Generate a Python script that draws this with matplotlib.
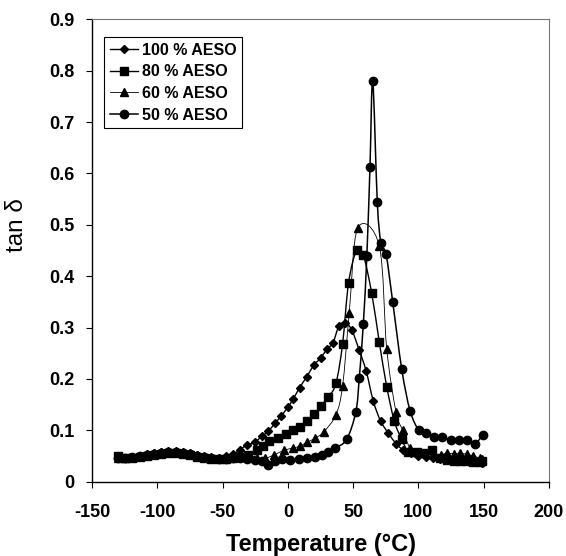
import matplotlib
matplotlib.use("Agg")
import matplotlib.pyplot as plt
from matplotlib.path import Path
from matplotlib.patches import PathPatch
from matplotlib.lines import Line2D
import numpy as np

plt.rcParams['font.family'] = ['Liberation Sans', 'DejaVu Sans']
plt.rcParams['axes.unicode_minus'] = False

# ---------------- data ----------------
x_100 = [-130, -124.5, -119, -113.5, -108, -102.5, -97, -91.5, -86, -80.5, -75, -69.5, -64, -58.5,
         -53, -47.5, -42, -36.5, -31.5, -25.5, -20, -15, -10, -5, 0, 4, 9, 14.5, 20, 25, 30, 34.5,
         39, 43.7, 48.8, 54.5, 60, 65.4, 71, 77, 82.8, 88.4, 94, 100, 105.5, 111, 116.5, 122,
         127.5, 133, 138.5, 144, 149]
y_100 = [0.047, 0.046, 0.048, 0.050, 0.053, 0.056, 0.058, 0.059, 0.060, 0.058, 0.056, 0.052, 0.050, 0.047,
         0.046, 0.049, 0.053, 0.062, 0.071, 0.076, 0.088, 0.098, 0.113, 0.128, 0.145, 0.160, 0.183, 0.204,
         0.227, 0.240, 0.258, 0.270, 0.302, 0.309, 0.296, 0.257, 0.215, 0.157, 0.118, 0.094, 0.074, 0.061,
         0.055, 0.050, 0.047, 0.045, 0.044, 0.043, 0.042, 0.041, 0.040, 0.038, 0.037]

x_80 = [-130, -124.5, -119, -113.5, -108, -102.5, -97, -91.5, -86, -80.5, -75, -69.5, -64, -58.5,
        -53, -47.5, -42, -36.5, -30.5, -24, -19, -14.3, -7.4, -1.5, 4.1, 9.2, 14.3, 20, 25.1, 31,
        36.8, 41.9, 46.5, 52.7, 57.8, 64.2, 70, 75.7, 81.5, 87.2, 92.3, 98.7, 104, 110.2, 116.6,
        122, 127, 132, 137, 142, 147, 149]
y_80 = [0.050, 0.045, 0.046, 0.047, 0.050, 0.052, 0.054, 0.055, 0.055, 0.054, 0.051, 0.048, 0.046, 0.044,
        0.043, 0.044, 0.045, 0.047, 0.052, 0.061, 0.070, 0.078, 0.085, 0.093, 0.100, 0.107, 0.118, 0.131,
        0.147, 0.165, 0.191, 0.268, 0.387, 0.451, 0.441, 0.367, 0.272, 0.185, 0.118, 0.082, 0.058, 0.058,
        0.055, 0.061, 0.045, 0.042, 0.040, 0.040, 0.039, 0.038, 0.038, 0.040]

x_60 = [-130, -124.5, -119, -113.5, -108, -102.5, -97, -91.5, -86, -80.5, -75, -69.5, -64, -58.5,
        -53, -47.5, -42, -36.5, -30, -24, -17.6, -10.4, -2.7, 3.6, 9.2, 14.3, 20.7, 27.6, 36.8, 41.9,
        47, 53.4, 70, 75.7, 82.8, 87.9, 93.6, 99, 105, 111, 117, 122, 127, 132, 137, 142, 147, 149]
y_60 = [0.045, 0.046, 0.048, 0.050, 0.052, 0.055, 0.057, 0.058, 0.058, 0.057, 0.054, 0.051, 0.048, 0.046,
        0.045, 0.046, 0.047, 0.047, 0.047, 0.046, 0.045, 0.052, 0.061, 0.065, 0.069, 0.076, 0.084, 0.097,
        0.130, 0.186, 0.328, 0.493, 0.459, 0.259, 0.136, 0.100, 0.065, 0.058, 0.055, 0.053, 0.052, 0.055,
        0.054, 0.055, 0.053, 0.050, 0.045, 0.043]

x_50 = [-130, -124.5, -119, -113.5, -108, -102.5, -97, -91.5, -86, -80.5, -75, -69.5, -64, -58.5,
        -53, -47.5, -42, -36.5, -31, -25.5, -20, -15.1, -9.5, -4.8, 1.5, 8.7, 14.9, 20.7, 26, 31,
        36.2, 45, 52.1, 54.7, 57.8, 60.5, 62.9, 65, 68.5, 71.3, 75.2, 80.3, 87.2, 93.6, 100.3, 106.1,
        112.2, 118.3, 124.8, 131.1, 137.5, 143.4, 149.3]
y_50 = [0.046, 0.045, 0.047, 0.049, 0.052, 0.054, 0.056, 0.057, 0.057, 0.056, 0.053, 0.050, 0.047, 0.045,
        0.044, 0.044, 0.045, 0.045, 0.044, 0.042, 0.040, 0.033, 0.040, 0.043, 0.042, 0.043, 0.045, 0.048,
        0.052, 0.058, 0.065, 0.082, 0.136, 0.202, 0.307, 0.440, 0.613, 0.780, 0.545, 0.464, 0.443, 0.350,
        0.219, 0.138, 0.100, 0.094, 0.086, 0.086, 0.081, 0.081, 0.081, 0.074, 0.091]

labels = ['100 % AESO', '80 % AESO', '60 % AESO', '50 % AESO']
x_ticks = [-150, -100, -50, 0, 50, 100, 150, 200]
y_ticks = [0, 0.1, 0.2, 0.3, 0.4, 0.5, 0.6, 0.7, 0.8, 0.9]
y_tick_labels = ['0', '0.1', '0.2', '0.3', '0.4', '0.5', '0.6', '0.7', '0.8', '0.9']


def smooth_path(xs, ys):
    """Bezier (Catmull-Rom style) path through the data points, like a smoothed line."""
    p = np.column_stack([xs, ys]).astype(float)
    n = len(p)
    verts = [p[0]]
    codes = [Path.MOVETO]
    for i in range(n - 1):
        p0 = p[i - 1] if i > 0 else p[i]
        p1 = p[i]
        p2 = p[i + 1]
        p3 = p[i + 2] if i + 2 < n else p[i + 1]
        c1 = p1 + (p2 - p0) / 6.0
        c2 = p2 - (p3 - p1) / 6.0
        verts += [c1, c2, p2]
        codes += [Path.CURVE4] * 3
    return Path(verts, codes)


fig = plt.figure(figsize=(5.66, 5.56), dpi=100)
ax = fig.add_axes([92 / 566, 1 - 481.5 / 556, (549 - 92) / 566, (481.5 - 19.5) / 556])

series = [
    (x_100, y_100, 'D', 3.7, 1.0),
    (x_80, y_80, 's', 5.6, 1.0),
    (x_60, y_60, '^', 6.0, 0.6),
    (x_50, y_50, 'o', 6.0, 1.1),
]

handles = []
for (xs, ys, mk, ms, lw), lab in zip(series, labels):
    ax.add_patch(PathPatch(smooth_path(xs, ys), fill=False, edgecolor='black', lw=lw, zorder=2))
    ax.plot(xs, ys, linestyle='none', marker=mk, markersize=ms, color='black', zorder=3)
    handles.append(Line2D([], [], color='black', lw=lw, marker=mk, markersize=ms))

ax.set_xlim(-150, 200)
ax.set_ylim(0, 0.9)
ax.set_xticks(x_ticks)
ax.set_yticks(y_ticks)
ax.set_yticklabels(y_tick_labels)

for lab in ax.get_xticklabels() + ax.get_yticklabels():
    lab.set_fontweight('bold')
    lab.set_fontsize(13)

ax.tick_params(axis='x', direction='out', length=4.5, width=0.8, pad=12)
ax.tick_params(axis='y', direction='out', length=4.5, width=0.8, pad=8)

ax.spines['left'].set_linewidth(1.0)
ax.spines['bottom'].set_linewidth(1.0)
for s in ['top', 'right']:
    ax.spines[s].set_color('#777777')
    ax.spines[s].set_linewidth(0.8)

fig.text(320.5 / 566, 1 - 545 / 556, 'Temperature (°C)', ha='center', va='center',
         fontsize=17, fontweight='bold')
fig.text(17 / 566, 1 - 225 / 556, 'tan δ', ha='center', va='center', rotation=90,
         fontsize=17.5)

leg = ax.legend(handles, labels, loc='upper left', bbox_to_anchor=(104 / 566, 1 - 37 / 556),
                bbox_transform=fig.transFigure, borderaxespad=0, fancybox=False,
                edgecolor='black', framealpha=1, prop={'weight': 'bold', 'size': 11.5},
                handlelength=1.75, handletextpad=0.25, labelspacing=0.42, borderpad=0.35)
leg.get_frame().set_linewidth(0.8)

fig.savefig('out.png', dpi=100)
